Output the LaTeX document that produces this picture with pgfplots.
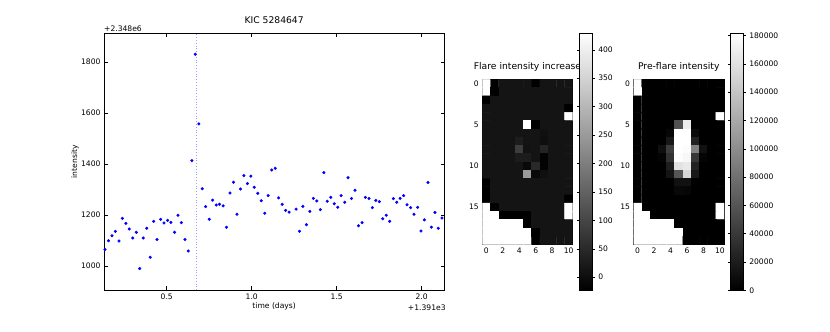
\documentclass[border=0pt]{standalone}
\usepackage{fontspec}
\setmainfont{DejaVu Sans}
\usepackage{pgfplots}
\pgfplotsset{compat=1.18}
\pgfkeys{/pgf/number format/assume math mode=true}
\begin{document}
\begin{tikzpicture}
\path[use as bounding box] (0,0) rectangle (830pt,332pt);
\pgfplotsset{
  base/.style={
    scale only axis,
    axis line style={black, line width=0.6pt},
    tick style={black, line width=0.5pt},
    tick align=inside,
    ticklabel style={font=\fontsize{7.6}{9}\selectfont},
    label style={font=\fontsize{7.6}{9}\selectfont},
    title style={font=\fontsize{9.2}{11}\selectfont, at={(0.5,1)}, anchor=base, yshift=4pt},
    clip mode=individual,
  },
  cbar/.style={
    at={(parent axis.north east)}, anchor=north west,
    yshift=46pt, width=13.7pt, height=257pt, scale only axis,
    axis line style={black, line width=0.6pt},
    tick style={black, line width=0.5pt},
    tick align=outside, major tick length=2pt,
    yticklabel style={font=\fontsize{7.6}{9}\selectfont, /pgf/number format/.cd, fixed, 1000 sep={}},
    scaled y ticks=false,
  }
}
% ---------------- light curve ----------------
\begin{axis}[base, at={(104pt,42pt)}, anchor=south west, width=340.3pt, height=256.7pt,
  xmin=0.131, xmax=2.133, ymin=906, ymax=1912,
  xtick={0.5,1.0,1.5,2.0}, ytick={1000,1200,1400,1600,1800},
  xticklabel style={/pgf/number format/.cd, fixed, fixed zerofill, precision=1},
  yticklabel style={/pgf/number format/1000 sep={}},
  major tick length=3.5pt,
  title={KIC 5284647},
  xlabel={time (days)}, xlabel style={at={(axis description cs:0.5,-0.074)}, anchor=base},
  ylabel={intensity}, ylabel style={at={(axis description cs:-0.0852,0.5)}, anchor=center},
]
\addplot[blue!40, dotted, line width=0.8pt] coordinates {(0.672,906) (0.672,1912)};
\addplot[only marks, mark=*, mark size=1.35pt, blue, mark options={draw=blue, fill=blue}] coordinates {
(0.137,1065) (0.157,1099) (0.178,1119) (0.198,1136) (0.219,1098) (0.239,1187) (0.260,1167) (0.280,1145)
(0.300,1110) (0.321,1132) (0.341,990) (0.362,1110) (0.382,1148) (0.403,1034) (0.423,1175) (0.443,1104)
(0.464,1183) (0.484,1169) (0.505,1179) (0.525,1171) (0.546,1132) (0.566,1199) (0.586,1170) (0.607,1104)
(0.627,1059) (0.648,1413) (0.668,1830) (0.689,1557) (0.709,1303) (0.729,1233) (0.750,1183) (0.770,1258)
(0.791,1239) (0.811,1242) (0.832,1236) (0.852,1152) (0.872,1286) (0.893,1328) (0.913,1203) (0.934,1302)
(0.954,1354) (0.975,1323) (0.995,1352) (1.015,1309) (1.036,1285) (1.056,1256) (1.077,1207) (1.097,1276)
(1.118,1376) (1.138,1383) (1.158,1267) (1.179,1242) (1.199,1218) (1.220,1211)
(1.261,1223) (1.281,1136) (1.301,1234) (1.322,1162) (1.342,1214) (1.363,1265) (1.383,1255) (1.404,1221)
(1.424,1366) (1.444,1254) (1.465,1269) (1.485,1244) (1.506,1230) (1.526,1276) (1.547,1250) (1.567,1346)
(1.587,1265) (1.608,1297) (1.628,1158) (1.649,1170) (1.669,1269) (1.690,1265) (1.710,1229) (1.730,1257)
(1.751,1252) (1.771,1185) (1.792,1199) (1.812,1175) (1.833,1264) (1.853,1250) (1.873,1265) (1.894,1276)
(1.914,1240) (1.935,1229) (1.955,1203) (1.976,1230) (1.996,1137) (2.016,1181) (2.037,1327) (2.057,1152)
(2.078,1210) (2.098,1148) (2.119,1188)
};
\node[anchor=base west, inner sep=0pt, font=\fontsize{7.6}{9}\selectfont] at (rel axis cs:0,1) [yshift=2pt] {+2.348e6};
\node[anchor=base east, inner sep=0pt, font=\fontsize{7.6}{9}\selectfont] at (rel axis cs:1,0) [yshift=-21pt, xshift=1.5pt] {+1.391e3};
\end{axis}
% ---------------- flare intensity increase ----------------
\begin{axis}[base, at={(482.3pt,87.7pt)}, anchor=south west, width=90.4pt, height=165pt,
  xmin=-0.5, xmax=10.5, ymin=-0.5, ymax=19.5, y dir=reverse, enlargelimits=false,
  xtick={0,2,4,6,8,10}, ytick={0,5,10,15}, major tick length=3pt,
  title={Flare intensity increase},
  colormap/blackwhite, point meta min=-23, point meta max=429,
  colorbar,
  colorbar style={cbar, xshift=-2.2pt, ytick={0,50,100,150,200,250,300,350,400}},
]
\addplot[matrix plot*, mesh/cols=11, point meta=explicit] coordinates {
(0,0)[429] (1,0)[-23] (2,0)[13] (3,0)[13] (4,0)[13] (5,0)[13] (6,0)[-23] (7,0)[13] (8,0)[13] (9,0)[13] (10,0)[13]
(0,1)[429] (1,1)[-23] (2,1)[13] (3,1)[13] (4,1)[13] (5,1)[13] (6,1)[13] (7,1)[13] (8,1)[13] (9,1)[13] (10,1)[13]
(0,2)[-23] (1,2)[13] (2,2)[13] (3,2)[13] (4,2)[13] (5,2)[13] (6,2)[13] (7,2)[13] (8,2)[13] (9,2)[13] (10,2)[13]
(0,3)[13] (1,3)[13] (2,3)[13] (3,3)[13] (4,3)[13] (5,3)[13] (6,3)[13] (7,3)[13] (8,3)[13] (9,3)[13] (10,3)[-23]
(0,4)[13] (1,4)[13] (2,4)[13] (3,4)[13] (4,4)[13] (5,4)[13] (6,4)[13] (7,4)[13] (8,4)[13] (9,4)[13] (10,4)[429]
(0,5)[13] (1,5)[13] (2,5)[13] (3,5)[13] (4,5)[13] (5,5)[429] (6,5)[-23] (7,5)[13] (8,5)[13] (9,5)[13] (10,5)[13]
(0,6)[13] (1,6)[13] (2,6)[13] (3,6)[13] (4,6)[13] (5,6)[13] (6,6)[13] (7,6)[6] (8,6)[13] (9,6)[13] (10,6)[13]
(0,7)[13] (1,7)[13] (2,7)[13] (3,7)[13] (4,7)[28] (5,7)[13] (6,7)[13] (7,7)[2] (8,7)[13] (9,7)[13] (10,7)[13]
(0,8)[13] (1,8)[13] (2,8)[13] (3,8)[13] (4,8)[85] (5,8)[8] (6,8)[13] (7,8)[40] (8,8)[13] (9,8)[13] (10,8)[13]
(0,9)[13] (1,9)[13] (2,9)[13] (3,9)[13] (4,9)[26] (5,9)[26] (6,9)[13] (7,9)[-18] (8,9)[13] (9,9)[13] (10,9)[13]
(0,10)[13] (1,10)[13] (2,10)[13] (3,10)[13] (4,10)[13] (5,10)[-8] (6,10)[50] (7,10)[-18] (8,10)[13] (9,10)[13] (10,10)[13]
(0,11)[13] (1,11)[13] (2,11)[13] (3,11)[13] (4,11)[13] (5,11)[250] (6,11)[-8] (7,11)[5] (8,11)[13] (9,11)[13] (10,11)[13]
(0,12)[-23] (1,12)[13] (2,12)[13] (3,12)[13] (4,12)[13] (5,12)[13] (6,12)[13] (7,12)[13] (8,12)[13] (9,12)[13] (10,12)[13]
(0,13)[-23] (1,13)[13] (2,13)[13] (3,13)[13] (4,13)[13] (5,13)[13] (6,13)[13] (7,13)[13] (8,13)[13] (9,13)[13] (10,13)[13]
(0,14)[-23] (1,14)[13] (2,14)[13] (3,14)[13] (4,14)[13] (5,14)[13] (6,14)[13] (7,14)[13] (8,14)[13] (9,14)[13] (10,14)[-23]
(0,15)[429] (1,15)[-23] (2,15)[13] (3,15)[13] (4,15)[13] (5,15)[13] (6,15)[13] (7,15)[13] (8,15)[13] (9,15)[13] (10,15)[429]
(0,16)[429] (1,16)[429] (2,16)[-23] (3,16)[-23] (4,16)[-23] (5,16)[-23] (6,16)[13] (7,16)[13] (8,16)[13] (9,16)[13] (10,16)[429]
(0,17)[429] (1,17)[429] (2,17)[429] (3,17)[429] (4,17)[429] (5,17)[-23] (6,17)[13] (7,17)[13] (8,17)[13] (9,17)[13] (10,17)[13]
(0,18)[429] (1,18)[429] (2,18)[429] (3,18)[429] (4,18)[429] (5,18)[429] (6,18)[-23] (7,18)[13] (8,18)[13] (9,18)[13] (10,18)[13]
(0,19)[429] (1,19)[429] (2,19)[429] (3,19)[429] (4,19)[429] (5,19)[429] (6,19)[-23] (7,19)[13] (8,19)[13] (9,19)[13] (10,19)[13]
};
\end{axis}
% ---------------- pre-flare intensity ----------------
\begin{axis}[base, at={(633.5pt,87.7pt)}, anchor=south west, width=90.5pt, height=165pt,
  xmin=-0.5, xmax=10.5, ymin=-0.5, ymax=19.5, y dir=reverse, enlargelimits=false,
  xtick={0,2,4,6,8,10}, ytick={0,5,10,15}, major tick length=3pt,
  title={Pre-flare intensity},
  colormap/blackwhite, point meta min=0, point meta max=181600,
  colorbar,
  colorbar style={cbar, xshift=-2.5pt, ytick={0,20000,40000,60000,80000,100000,120000,140000,160000,180000}},
]
\addplot[matrix plot*, mesh/cols=11, point meta=explicit] coordinates {
(0,0)[181600] (1,0)[0] (2,0)[0] (3,0)[0] (4,0)[0] (5,0)[0] (6,0)[0] (7,0)[0] (8,0)[0] (9,0)[0] (10,0)[0]
(0,1)[181600] (1,1)[0] (2,1)[0] (3,1)[0] (4,1)[0] (5,1)[0] (6,1)[0] (7,1)[0] (8,1)[0] (9,1)[0] (10,1)[0]
(0,2)[0] (1,2)[0] (2,2)[0] (3,2)[0] (4,2)[0] (5,2)[0] (6,2)[0] (7,2)[0] (8,2)[0] (9,2)[0] (10,2)[0]
(0,3)[0] (1,3)[0] (2,3)[0] (3,3)[0] (4,3)[0] (5,3)[0] (6,3)[0] (7,3)[0] (8,3)[0] (9,3)[0] (10,3)[0]
(0,4)[0] (1,4)[0] (2,4)[0] (3,4)[0] (4,4)[0] (5,4)[0] (6,4)[0] (7,4)[0] (8,4)[0] (9,4)[0] (10,4)[181600]
(0,5)[0] (1,5)[0] (2,5)[0] (3,5)[0] (4,5)[0] (5,5)[57000] (6,5)[167000] (7,5)[0] (8,5)[0] (9,5)[0] (10,5)[0]
(0,6)[0] (1,6)[0] (2,6)[0] (3,6)[0] (4,6)[5000] (5,6)[181600] (6,6)[181600] (7,6)[8000] (8,6)[0] (9,6)[0] (10,6)[0]
(0,7)[0] (1,7)[0] (2,7)[0] (3,7)[0] (4,7)[17000] (5,7)[181600] (6,7)[181600] (7,7)[24000] (8,7)[0] (9,7)[0] (10,7)[0]
(0,8)[0] (1,8)[0] (2,8)[0] (3,8)[10000] (4,8)[43000] (5,8)[181600] (6,8)[178000] (7,8)[92000] (8,8)[12000] (9,8)[0] (10,8)[0]
(0,9)[0] (1,9)[0] (2,9)[0] (3,9)[3000] (4,9)[35000] (5,9)[178000] (6,9)[175000] (7,9)[39000] (8,9)[3000] (9,9)[0] (10,9)[0]
(0,10)[0] (1,10)[0] (2,10)[0] (3,10)[0] (4,10)[21000] (5,10)[160000] (6,10)[165000] (7,10)[24000] (8,10)[0] (9,10)[0] (10,10)[0]
(0,11)[0] (1,11)[0] (2,11)[0] (3,11)[0] (4,11)[14000] (5,11)[60000] (6,11)[153000] (7,11)[17000] (8,11)[0] (9,11)[0] (10,11)[0]
(0,12)[0] (1,12)[0] (2,12)[0] (3,12)[0] (4,12)[0] (5,12)[12000] (6,12)[12000] (7,12)[0] (8,12)[0] (9,12)[0] (10,12)[0]
(0,13)[0] (1,13)[0] (2,13)[0] (3,13)[0] (4,13)[0] (5,13)[6000] (6,13)[4000] (7,13)[0] (8,13)[0] (9,13)[0] (10,13)[0]
(0,14)[0] (1,14)[0] (2,14)[0] (3,14)[0] (4,14)[0] (5,14)[0] (6,14)[0] (7,14)[0] (8,14)[0] (9,14)[0] (10,14)[0]
(0,15)[181600] (1,15)[0] (2,15)[0] (3,15)[0] (4,15)[0] (5,15)[0] (6,15)[0] (7,15)[0] (8,15)[0] (9,15)[0] (10,15)[181600]
(0,16)[181600] (1,16)[181600] (2,16)[0] (3,16)[0] (4,16)[0] (5,16)[0] (6,16)[0] (7,16)[0] (8,16)[0] (9,16)[0] (10,16)[181600]
(0,17)[181600] (1,17)[181600] (2,17)[181600] (3,17)[181600] (4,17)[181600] (5,17)[0] (6,17)[0] (7,17)[0] (8,17)[0] (9,17)[0] (10,17)[0]
(0,18)[181600] (1,18)[181600] (2,18)[181600] (3,18)[181600] (4,18)[181600] (5,18)[181600] (6,18)[0] (7,18)[0] (8,18)[0] (9,18)[0] (10,18)[0]
(0,19)[181600] (1,19)[181600] (2,19)[181600] (3,19)[181600] (4,19)[181600] (5,19)[181600] (6,19)[0] (7,19)[0] (8,19)[0] (9,19)[0] (10,19)[0]
};
\end{axis}
\end{tikzpicture}
\end{document}
